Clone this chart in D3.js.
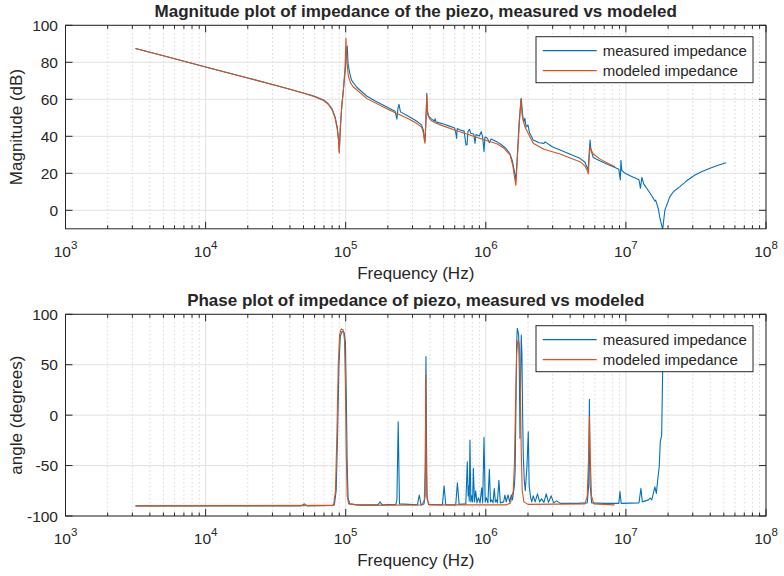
<!DOCTYPE html>
<html><head><meta charset="utf-8">
<script src="https://cdn.jsdelivr.net/npm/d3@7"></script>
<style>
body{margin:0;background:#fff}
svg{display:block}
text{font-family:"Liberation Sans",Arial,Helvetica,sans-serif;fill:#262626}
</style>
</head><body><svg id="c" width="784" height="576"></svg>
<script>
// ---------------- data ----------------
const decades = [3, 4, 5, 6, 7, 8];
const magTicks = [0, 20, 40, 60, 80, 100];
const phaseTicks = [-100, -50, 0, 50, 100];
const seriesNames = ["measured impedance", "modeled impedance"];
const titles = ["Magnitude plot of impedance of the piezo, measured vs modeled",
                "Phase plot of impedance of piezo, measured vs modeled"];
const yLabels = ["Magnitude (dB)", "angle (degrees)"];
const xLabel = "Frequency (Hz)";

// [frequency Hz, magnitude dB]
const magMeasured = [[3160,87.5],[5000,83.5],[1e4,77.5],[2e4,71.5],[3e4,68],[4e4,65.4],[5e4,63.4],[6e4,61.6],[7e4,59.5],[7.5e4,57.6],[8e4,54.8],[8.4e4,50.5],[8.7e4,45],[8.9e4,38],[9.0e4,31.5],[9.1e4,40],[9.35e4,55.5],[9.6e4,64],[9.9e4,75],[1.01e5,83],[1.026e5,88.8],[1.04e5,79],[1.07e5,74],[1.1e5,70.4],[1.2e5,66.5],[1.41e5,61.8],[1.6e5,59.3],[1.95e5,56],[2.25e5,53.6],[2.32e5,49.3],[2.36e5,55],[2.4e5,57.3],[2.46e5,53.2],[2.8e5,50.8],[3.2e5,48.3],[3.48e5,46.2],[3.58e5,43.5],[3.64e5,39],[3.68e5,37.5],[3.73e5,46],[3.77e5,56],[3.79e5,63.2],[3.83e5,54],[3.9e5,51],[4.1e5,49.3],[4.3e5,48.3],[4.35e5,49.5],[4.4e5,47.8],[5.0e5,46.6],[5.5e5,45.5],[6.0e5,44.5],[6.14e5,40.7],[6.19e5,38.9],[6.25e5,44.2],[6.55e5,43.4],[7.0e5,42.8],[7.22e5,35.3],[7.35e5,35.5],[7.45e5,42.5],[7.65e5,43.8],[7.8e5,41.6],[8.2e5,41.2],[8.38e5,36.2],[8.5e5,41],[9.0e5,40.2],[9.28e5,42.5],[9.5e5,39.5],[9.71e5,31.7],[9.85e5,39.5],[1.0e6,39.6],[1.03e6,38.7],[1.06e6,36.5],[1.09e6,38.6],[1.2e6,37.1],[1.3e6,35.3],[1.4e6,33.3],[1.49e6,30.4],[1.55e6,26.5],[1.6e6,21],[1.64e6,16.5],[1.68e6,30],[1.73e6,48],[1.79e6,60.5],[1.83e6,52],[1.86e6,47.5],[1.9e6,49.7],[1.94e6,45],[2.0e6,46.2],[2.05e6,42],[2.18e6,38],[2.4e6,36.5],[2.6e6,36.2],[2.65e6,37],[3.0e6,34.2],[3.39e6,32.6],[4.0e6,30.3],[4.7e6,28.1],[5.1e6,26],[5.3e6,23],[5.38e6,21.8],[5.46e6,30],[5.55e6,38],[5.62e6,33],[5.85e6,28.5],[6.5e6,26.8],[7.5e6,24.6],[8.35e6,23.2],[8.9e6,22.2],[9.12e6,16.4],[9.22e6,27],[9.35e6,21.5],[9.87e6,20],[1.1e7,18.3],[1.24e7,16.5],[1.27e7,11.9],[1.3e7,17.8],[1.34e7,14.3],[1.49e7,9.2],[1.61e7,5],[1.63e7,5.5],[1.7e7,1.2],[1.75e7,-4.3],[1.8e7,-8],[1.83e7,-10.5],[1.87e7,-4],[1.9e7,0.2],[2.06e7,7.4],[2.2e7,10.3],[2.43e7,12.8],[2.7e7,15.8],[3.11e7,19.1],[3.5e7,21],[3.98e7,22.7],[4.5e7,24.2],[5.18e7,25.7]];

const magModeled = [[3160,87.5],[5000,83.5],[1e4,77.5],[2e4,71.5],[3e4,68],[4e4,65.4],[5e4,63.3],[6e4,61.4],[7e4,59.2],[7.5e4,57.3],[8e4,54.3],[8.4e4,49.8],[8.7e4,44],[8.9e4,37.5],[9.0e4,31],[9.15e4,45],[9.4e4,57],[9.65e4,66],[9.9e4,78],[1.004e5,93],[1.02e5,80],[1.045e5,72.6],[1.08e5,69],[1.13e5,66.8],[1.41e5,60.5],[1.95e5,55],[2.3e5,52.4],[2.8e5,49.5],[3.2e5,47],[3.48e5,45],[3.58e5,42],[3.64e5,38],[3.68e5,36.2],[3.72e5,45],[3.76e5,55],[3.79e5,62],[3.84e5,52],[4.0e5,49],[4.3e5,47.5],[5e5,45.5],[6.2e5,43],[7.5e5,41],[9e5,39],[1.05e6,37.3],[1.2e6,36],[1.35e6,33.5],[1.49e6,30],[1.56e6,24],[1.61e6,17],[1.64e6,13.5],[1.68e6,28],[1.73e6,45],[1.78e6,60],[1.82e6,51],[1.9e6,45.2],[2.18e6,36.2],[2.6e6,33],[3.39e6,30.4],[4.0e6,28.3],[4.7e6,26.3],[5.1e6,24],[5.3e6,21.5],[5.39e6,19.6],[5.47e6,28],[5.55e6,34.4],[5.7e6,32],[5.85e6,30.4],[6.5e6,27.8],[7.5e6,25.3],[8.35e6,23.6]];

// [frequency Hz, phase degrees]
const phaseMeasured = [[3160,-90],[2e4,-90],[4.8e4,-90],[5.07e4,-88],[5.3e4,-90],[8e4,-89.5],[8.3e4,-89],[8.55e4,-75],[8.75e4,-20],[8.95e4,50],[9.15e4,78],[9.4e4,83],[9.75e4,82],[9.95e4,72],[1.01e5,20],[1.025e5,-50],[1.04e5,-82],[1.07e5,-88],[1.2e5,-89],[1.7e5,-89],[1.76e5,-85.8],[1.82e5,-89],[2.28e5,-88.5],[2.32e5,-84],[2.37e5,-6.5],[2.42e5,-88],[3.25e5,-89],[3.35e5,-79.2],[3.45e5,-89],[3.62e5,-88],[3.69e5,-80],[3.74e5,58],[3.8e5,-80],[3.9e5,-88.5],[4.9e5,-89],[5.04e5,-70],[5.18e5,-89],[6.1e5,-89],[6.27e5,-67],[6.45e5,-88.5],[7.2e5,-88],[7.38e5,-46.2],[7.48e5,-80],[7.55e5,-70],[7.62e5,-85],[7.71e5,-24.6],[7.82e5,-86],[7.94e5,-80],[8.05e5,-86],[8.15e5,-52.7],[8.3e5,-86],[8.47e5,-74.9],[8.65e5,-87],[8.86e5,-82],[9.1e5,-87],[9.35e5,-72],[9.5e5,-87],[9.71e5,-22],[9.9e5,-86],[1.01e6,-82],[1.035e6,-87],[1.06e6,-53.7],[1.08e6,-86],[1.1e6,-84],[1.125e6,-87],[1.15e6,-72.8],[1.17e6,-86],[1.19e6,-84],[1.21e6,-87],[1.24e6,-64.5],[1.27e6,-87],[1.34e6,-86],[1.37e6,-79.3],[1.4e6,-86],[1.44e6,-79],[1.48e6,-86],[1.52e6,-79],[1.55e6,-84],[1.6e6,-70],[1.62e6,-55],[1.645e6,20],[1.66e6,70],[1.677e6,86],[1.716e6,80],[1.734e6,46.5],[1.754e6,-23],[1.774e6,40],[1.791e6,79.5],[1.811e6,60],[1.832e6,0],[1.852e6,-41],[1.883e6,-65],[1.914e6,-75],[1.968e6,-50],[2.01e6,-16.4],[2.04e6,-70],[2.09e6,-82],[2.13e6,-86],[2.18e6,-80],[2.25e6,-86],[2.34e6,-78],[2.42e6,-86],[2.5e6,-83],[2.6e6,-86.5],[2.7e6,-78],[2.8e6,-86.5],[2.93e6,-80],[3.05e6,-87],[3.2e6,-85],[3.4e6,-87.5],[4.5e6,-87.5],[5.3e6,-87],[5.42e6,-70],[5.49e6,15.7],[5.56e6,-70],[5.7e6,-87],[7e6,-87.5],[8.9e6,-87.5],[9.07e6,-75.8],[9.25e6,-87.5],[1.24e7,-87],[1.28e7,-72.5],[1.31e7,-86],[1.45e7,-84],[1.49e7,-82.3],[1.53e7,-84],[1.61e7,-71],[1.65e7,-77.6],[1.69e7,-63],[1.73e7,-51],[1.76e7,-26],[1.8e7,-20],[1.83e7,45],[1.85e7,87],[2.0e7,88],[3.0e7,88],[5.18e7,87]];

const phaseModeled = [[3160,-90],[8e4,-89.5],[8.2e4,-89],[8.45e4,-75],[8.65e4,-20],[8.85e4,50],[9.05e4,80],[9.3e4,85.5],[9.6e4,84.5],[9.8e4,75],[9.95e4,30],[1.01e5,-40],[1.025e5,-80],[1.05e5,-88],[1.3e5,-89.5],[3.5e5,-89],[3.64e5,-84],[3.7e5,-50],[3.73e5,39.8],[3.76e5,-50],[3.82e5,-84],[3.95e5,-89],[1.4e6,-89],[1.5e6,-87],[1.57e6,-75],[1.6e6,-50],[1.63e6,10],[1.66e6,60],[1.69e6,73],[1.71e6,74.5],[1.735e6,70],[1.76e6,40],[1.79e6,-35],[1.82e6,-75],[1.87e6,-86],[2.0e6,-88.5],[5.1e6,-88],[5.3e6,-80],[5.42e6,-40],[5.49e6,-1.5],[5.56e6,-40],[5.68e6,-80],[5.9e6,-88],[8.3e6,-89]];

// ---------------- drawing ----------------
const colors = ["#0072BD", "#D95319"];
const svg = d3.select("#c");
const L = 65.5, R = 766;
const x = d3.scaleLog().domain([1e3, 1e8]).range([L, R]);

const panels = [
  {top: 25.3, bottom: 228.8, domain: [-10, 100], ticks: magTicks, title: titles[0], ylabel: yLabels[0], data: [magMeasured, magModeled], legendTop: 36.7},
  {top: 314.3, bottom: 516, domain: [-100, 100], ticks: phaseTicks, title: titles[1], ylabel: yLabels[1], data: [phaseMeasured, phaseModeled], legendTop: 325.7}
];

const minorVals = [];
for (let d = 3; d < 8; d++) for (let m = 2; m <= 9; m++) minorVals.push(m * Math.pow(10, d));
const majorVals = decades.map(d => Math.pow(10, d));

panels.forEach((p, i) => {
  const y = d3.scaleLinear().domain(p.domain).range([p.bottom, p.top]);
  const g = svg.append("g");
  const clipId = "clip" + i;
  svg.append("clipPath").attr("id", clipId).append("rect")
    .attr("x", L).attr("y", p.top).attr("width", R - L).attr("height", p.bottom - p.top);

  g.append("rect").attr("x", L).attr("y", p.top).attr("width", R - L).attr("height", p.bottom - p.top).attr("fill", "#fff");

  // minor grid (dotted)
  g.selectAll(".mg").data(minorVals).enter().append("line")
    .attr("x1", d => x(d)).attr("x2", d => x(d)).attr("y1", p.top).attr("y2", p.bottom)
    .attr("stroke", "#c4c4c4").attr("stroke-width", 1).attr("stroke-dasharray", "1,3");
  // major grid
  g.selectAll(".Mg").data(majorVals).enter().append("line")
    .attr("x1", d => x(d)).attr("x2", d => x(d)).attr("y1", p.top).attr("y2", p.bottom)
    .attr("stroke", "#e1e1e1").attr("stroke-width", 1);
  g.selectAll(".Mgy").data(p.ticks).enter().append("line")
    .attr("x1", L).attr("x2", R).attr("y1", d => y(d)).attr("y2", d => y(d))
    .attr("stroke", "#e1e1e1").attr("stroke-width", 1);

  // lines
  const line = d3.line().x(d => x(d[0])).y(d => y(d[1]));
  p.data.forEach((s, k) => {
    g.append("path").datum(s).attr("d", line).attr("fill", "none")
      .attr("stroke", colors[k]).attr("stroke-width", 1.1)
      .attr("stroke-linejoin", "round")
      .attr("clip-path", `url(#${clipId})`);
  });

  // box
  g.append("rect").attr("x", L).attr("y", p.top).attr("width", R - L).attr("height", p.bottom - p.top)
    .attr("fill", "none").attr("stroke", "#262626").attr("stroke-width", 1);

  // ticks x (major & minor, bottom and top, inward)
  const tk = g.append("g").attr("stroke", "#262626").attr("stroke-width", 1);
  majorVals.forEach(v => {
    tk.append("line").attr("x1", x(v)).attr("x2", x(v)).attr("y1", p.bottom).attr("y2", p.bottom - 7);
    tk.append("line").attr("x1", x(v)).attr("x2", x(v)).attr("y1", p.top).attr("y2", p.top + 7);
  });
  minorVals.forEach(v => {
    tk.append("line").attr("x1", x(v)).attr("x2", x(v)).attr("y1", p.bottom).attr("y2", p.bottom - 3.5);
    tk.append("line").attr("x1", x(v)).attr("x2", x(v)).attr("y1", p.top).attr("y2", p.top + 3.5);
  });
  p.ticks.forEach(v => {
    tk.append("line").attr("x1", L).attr("x2", L + 7).attr("y1", y(v)).attr("y2", y(v));
    tk.append("line").attr("x1", R).attr("x2", R - 7).attr("y1", y(v)).attr("y2", y(v));
  });

  // x tick labels 10^n
  decades.forEach(d => {
    const t = g.append("text").attr("x", x(Math.pow(10, d))).attr("y", p.bottom + 27.8)
      .attr("text-anchor", "middle").style("font-size", "15.5px");
    t.append("tspan").text("10");
    t.append("tspan").attr("dy", -8).style("font-size", "11.5px").text(String(d));
  });
  // y tick labels
  p.ticks.forEach(v => {
    g.append("text").attr("x", L - 7.5).attr("y", y(v)).attr("dy", "0.36em")
      .attr("text-anchor", "end").style("font-size", "15.5px").text(String(v));
  });

  // title
  g.append("text").attr("x", (L + R) / 2).attr("y", p.top - 8).attr("text-anchor", "middle")
    .style("font-size", "17px").style("font-weight", "bold").text(p.title);
  // x label
  g.append("text").attr("x", (L + R) / 2).attr("y", p.bottom + 50).attr("text-anchor", "middle")
    .style("font-size", "17px").text(xLabel);
  // y label
  g.append("text").attr("transform", `translate(21.5,${(p.top + p.bottom) / 2}) rotate(-90)`)
    .attr("text-anchor", "middle").style("font-size", "17px").text(p.ylabel);

  // legend
  const lg = g.append("g").attr("transform", `translate(536,${p.legendTop})`);
  lg.append("rect").attr("width", 217).attr("height", 46).attr("fill", "#fff")
    .attr("stroke", "#262626").attr("stroke-width", 1);
  seriesNames.forEach((n, k) => {
    const yy = 14 + k * 20;
    lg.append("line").attr("x1", 6.7).attr("x2", 60.7).attr("y1", yy).attr("y2", yy)
      .attr("stroke", colors[k]).attr("stroke-width", 1.3);
    lg.append("text").attr("x", 66.7).attr("y", yy).attr("dy", "0.36em")
      .style("font-size", "15px").text(n);
  });
});
</script>
</body></html>
